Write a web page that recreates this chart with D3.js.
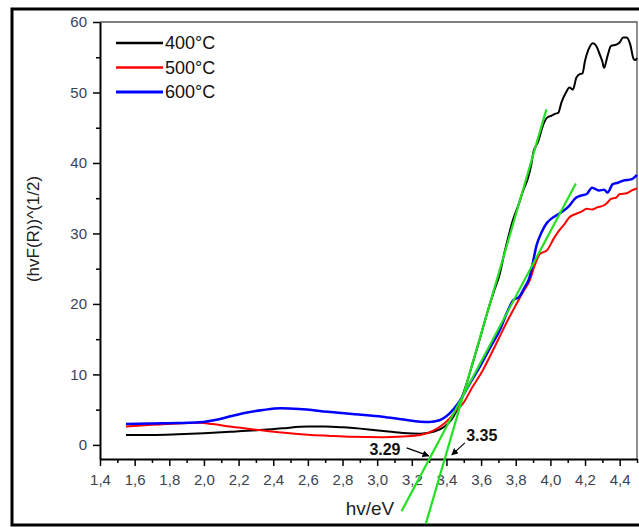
<!DOCTYPE html>
<html>
<head>
<meta charset="utf-8">
<script src="https://cdnjs.cloudflare.com/ajax/libs/d3/7.8.5/d3.min.js"></script>
<style>
  body { margin: 0; background: #fff; }
  svg { display: block; font-family: "Liberation Sans", Arial, sans-serif; }
  .tickLabel text { fill: #3b4350; font-size: 15px; }
</style>
</head>
<body>
<div id="chart"></div>
<script>
//wrap everything in a self-executing function
(function(){

  //series data: [hv (eV), (hvF(R))^(1/2)]
  var series400 = [[1.55,1.4],[1.7,1.4],[1.85,1.5],[2.0,1.65],[2.15,1.85],[2.32,2.1],[2.45,2.35],[2.6,2.6],[2.7,2.6],[2.8,2.5],[2.95,2.2],[3.05,1.95],[3.15,1.7],[3.25,1.6],[3.33,1.9],[3.39,2.6],[3.43,3.6],[3.47,5.5],[3.516,8.7],[3.55,11.5],[3.59,14.8],[3.63,18.3],[3.67,21.5],[3.708,24.3],[3.735,27.3],[3.756,29.4],[3.785,32.0],[3.815,34.0],[3.843,36.1],[3.87,37.8],[3.89,39.8],[3.90,41.3],[3.93,43.1],[3.96,45.5],[3.98,46.4],[4.006,46.7],[4.03,47.0],[4.045,47.1],[4.064,48.6],[4.09,50.0],[4.11,50.7],[4.13,50.4],[4.15,52.1],[4.17,52.6],[4.185,52.7],[4.20,54.5],[4.22,56.1],[4.245,57.0],[4.265,56.6],[4.285,55.4],[4.30,54.4],[4.31,53.5],[4.33,55.2],[4.35,56.6],[4.38,56.8],[4.40,57.1],[4.42,57.8],[4.44,57.8],[4.46,56.9],[4.48,54.8],[4.49,54.6],[4.50,54.9]];
  var series500 = [[1.55,2.6],[1.7,2.85],[1.85,3.05],[1.97,3.15],[2.05,2.95],[2.15,2.6],[2.32,2.1],[2.45,1.75],[2.6,1.45],[2.715,1.3],[2.85,1.15],[3.03,1.1],[3.15,1.2],[3.25,1.4],[3.33,2.1],[3.38,2.9],[3.42,3.8],[3.46,5.0],[3.496,5.9],[3.55,8.2],[3.61,10.6],[3.66,13.0],[3.708,15.4],[3.75,17.5],[3.804,20.0],[3.84,21.6],[3.88,23.3],[3.91,25.5],[3.94,27.1],[3.98,27.6],[4.02,29.3],[4.05,30.4],[4.08,31.3],[4.11,32.3],[4.15,32.8],[4.18,33.1],[4.21,33.5],[4.24,33.4],[4.27,33.7],[4.31,34.0],[4.33,34.4],[4.35,34.9],[4.38,35.1],[4.40,35.6],[4.44,35.7],[4.47,36.1],[4.49,36.3],[4.50,36.4]];
  var series600 = [[1.55,2.97],[1.7,3.05],[1.85,3.1],[1.974,3.2],[2.08,3.6],[2.16,4.1],[2.25,4.6],[2.34,4.95],[2.445,5.2],[2.55,5.1],[2.715,4.7],[2.87,4.35],[3.03,4.0],[3.15,3.6],[3.25,3.3],[3.30,3.25],[3.36,3.5],[3.42,4.5],[3.468,5.9],[3.53,8.5],[3.593,11.1],[3.65,13.7],[3.708,16.3],[3.75,18.8],[3.785,20.5],[3.82,21.0],[3.85,22.3],[3.88,23.8],[3.90,26.0],[3.92,28.3],[3.95,30.2],[3.98,31.5],[4.006,32.1],[4.05,32.8],[4.10,33.7],[4.15,35.1],[4.18,35.4],[4.21,35.6],[4.24,36.5],[4.28,36.1],[4.31,36.2],[4.33,35.8],[4.36,37.0],[4.39,37.2],[4.42,37.5],[4.47,37.7],[4.50,38.3]];

  var seriesNames = ["400°C", "500°C", "600°C"];
  var seriesColors = ["#000000", "#ff0000", "#0000ff"];

  //tangent lines used for the band gap (end points)
  var fitSteep = [[3.281,-11.2],[3.977,47.6]];
  var fitShallow = [[3.141,-9.4],[4.147,37.1]];

  //annotations: label, text position, arrow start, arrow end
  var gapLabels = ["3.29", "3.35"];
  var gapTextPos = [[3.045,-1.5],[3.604,0.5]];
  var gapArrows = [[[3.17,-0.42],[3.298,-1.56]], [[3.506,0.28],[3.431,-1.41]]];

  //axis ticks
  var xMajor = [1.4,1.6,1.8,2.0,2.2,2.4,2.6,2.8,3.0,3.2,3.4,3.6,3.8,4.0,4.2,4.4];
  var xMinor = [1.5,1.7,1.9,2.1,2.3,2.5,2.7,2.9,3.1,3.3,3.5,3.7,3.9,4.1,4.3,4.5];
  var yMajor = [0,10,20,30,40,50,60];
  var yMinor = [5,15,25,35,45,55];

  window.onload = setChart();

  function setChart(){
    var width = 639, height = 527;
    var left = 100, right = 637, top = 22, bottom = 459;

    var svg = d3.select("#chart")
      .append("svg")
      .attr("width", width)
      .attr("height", height);

    svg.append("rect")
      .attr("width", width)
      .attr("height", height)
      .attr("fill", "#fff");

    //outer frame (right side falls outside the picture)
    svg.append("rect")
      .attr("x", 12)
      .attr("y", 9)
      .attr("width", 700)
      .attr("height", 516)
      .attr("fill", "none")
      .attr("stroke", "#000")
      .attr("stroke-width", 3);

    var x = d3.scaleLinear().domain([1.4, 4.5]).range([left, right]);
    var y = d3.scaleLinear().domain([-2, 60]).range([bottom, top]);

    //thin top / right frame of plot
    svg.append("path")
      .attr("d", "M" + left + "," + top + "H" + right + "V" + bottom)
      .attr("fill", "none")
      .attr("stroke", "#555")
      .attr("stroke-width", 1.3);

    //minor ticks
    svg.append("g")
      .attr("transform", "translate(0," + bottom + ")")
      .call(d3.axisBottom(x).tickValues(xMinor).tickSize(4).tickFormat(""))
      .call(function(g){ g.select(".domain").remove(); })
      .selectAll("line").attr("stroke-width", 1.5);
    svg.append("g")
      .attr("transform", "translate(" + left + ",0)")
      .call(d3.axisLeft(y).tickValues(yMinor).tickSize(4).tickFormat(""))
      .call(function(g){ g.select(".domain").remove(); })
      .selectAll("line").attr("stroke-width", 1.5);

    //major axes
    var xAxis = svg.append("g")
      .attr("class", "tickLabel")
      .attr("transform", "translate(0," + bottom + ")")
      .call(d3.axisBottom(x).tickValues(xMajor).tickSize(7).tickPadding(8).tickSizeOuter(0)
        .tickFormat(function(d){ return d3.format(".1f")(d).replace(".", ","); }));
    var yAxis = svg.append("g")
      .attr("class", "tickLabel")
      .attr("transform", "translate(" + left + ",0)")
      .call(d3.axisLeft(y).tickValues(yMajor).tickSize(7).tickPadding(6).tickSizeOuter(0));
    [xAxis, yAxis].forEach(function(g){
      g.selectAll("line").attr("stroke-width", 1.5);
      g.select(".domain").attr("stroke-width", 2);
      g.attr("font-family", null).attr("font-size", null);
    });

    //axis titles
    svg.append("text")
      .attr("x", 370)
      .attr("y", 515)
      .attr("text-anchor", "middle")
      .attr("font-size", 19)
      .attr("fill", "#222")
      .text("hv/eV");
    svg.append("text")
      .attr("transform", "translate(39,229) rotate(-90)")
      .attr("text-anchor", "middle")
      .attr("font-size", 17)
      .attr("fill", "#222")
      .text("(hvF(R))^(1/2)");

    //data lines
    var line = d3.line()
      .x(function(d){ return x(d[0]); })
      .y(function(d){ return y(d[1]); })
      .curve(d3.curveMonotoneX);

    var allSeries = [series400, series500, series600];
    var widths = [2, 2, 2.5];
    allSeries.forEach(function(s, i){
      svg.append("path")
        .datum(s)
        .attr("d", line)
        .attr("fill", "none")
        .attr("stroke", seriesColors[i])
        .attr("stroke-width", widths[i]);
    });

    //tangent lines
    var straight = d3.line()
      .x(function(d){ return x(d[0]); })
      .y(function(d){ return y(d[1]); });
    [fitSteep, fitShallow].forEach(function(f){
      svg.append("path")
        .attr("d", straight(f))
        .attr("fill", "none")
        .attr("stroke", "#22e022")
        .attr("stroke-width", 2.2);
    });

    //arrow marker
    svg.append("defs").append("marker")
      .attr("id", "arrow")
      .attr("viewBox", "0 0 10 10")
      .attr("refX", 9)
      .attr("refY", 5)
      .attr("markerWidth", 7)
      .attr("markerHeight", 7)
      .attr("markerUnits", "userSpaceOnUse")
      .attr("orient", "auto")
      .append("path")
      .attr("d", "M0,0L10,5L0,10Z")
      .attr("fill", "#000");

    gapLabels.forEach(function(lbl, i){
      svg.append("text")
        .attr("x", x(gapTextPos[i][0]))
        .attr("y", y(gapTextPos[i][1]))
        .attr("text-anchor", "middle")
        .attr("font-size", 16)
        .attr("font-weight", "bold")
        .attr("fill", "#111")
        .text(lbl);
      svg.append("path")
        .attr("d", straight(gapArrows[i]))
        .attr("stroke", "#000")
        .attr("stroke-width", 1.2)
        .attr("marker-end", "url(#arrow)");
    });

    //legend
    var legend = svg.append("g");
    seriesNames.forEach(function(name, i){
      var ly = 43 + i * 24.5;
      legend.append("line")
        .attr("x1", 116).attr("x2", 163)
        .attr("y1", ly).attr("y2", ly)
        .attr("stroke", seriesColors[i])
        .attr("stroke-width", widths[i] + 0.5);
      legend.append("text")
        .attr("x", 165)
        .attr("y", ly + 6)
        .attr("font-size", 18)
        .attr("fill", "#111")
        .text(name);
    });
  }; //end of setChart

})();
</script>
</body>
</html>
